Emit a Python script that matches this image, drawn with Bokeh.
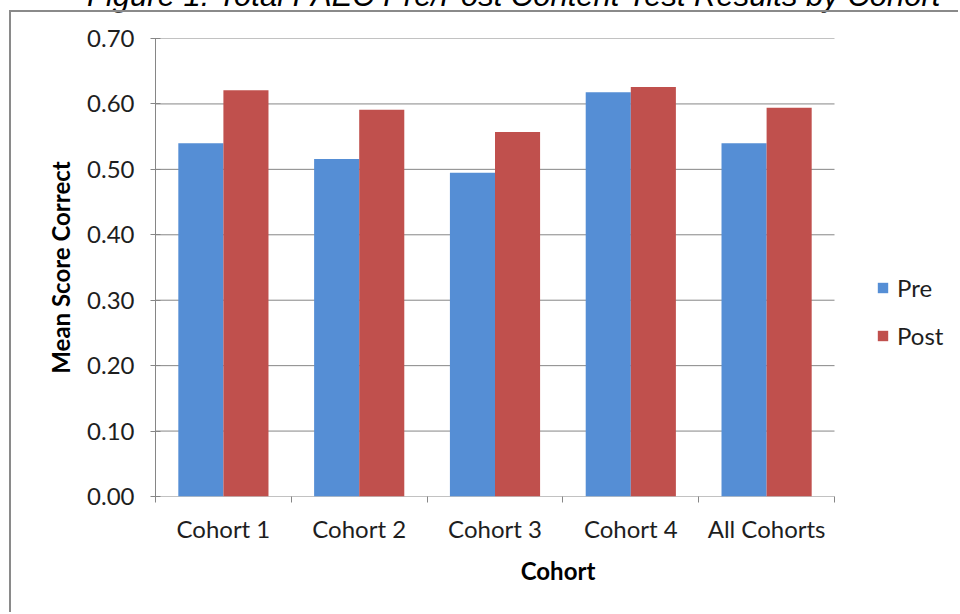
import numpy as np
from bokeh.plotting import figure
from bokeh.layouts import column
from bokeh.models import (Range1d, FixedTicker, NumeralTickFormatter,
                          Legend, LegendItem, Div)
from bokeh.embed import file_html
from bokeh.resources import INLINE

# Mean share of correct answers on the content test, before and after
cohorts = ["Cohort 1", "Cohort 2", "Cohort 3", "Cohort 4", "All Cohorts"]
pre_scores = [0.540, 0.516, 0.495, 0.618, 0.540]
post_scores = [0.621, 0.591, 0.557, 0.626, 0.594]
y_ticks = [0.00, 0.10, 0.20, 0.30, 0.40, 0.50, 0.60, 0.70]
title_text = "Figure 1: Total PAEC Pre/Post Content Test Results by Cohort"

FONT = "Lato"
TEXT = "#1E1E1E"
GRID = "#868686"
FRAME = "#8A8A8A"
BLUE = "#558ED5"
RED = "#C0504D"

n = len(cohorts)
centers = np.arange(n) + 0.5
bar_w = 0.332

# canvas geometry (px): the plot area spans PLOT_W, the legend sits to its right
CANVAS_W, CANVAS_H = 949, 602
LEFT, TOP, BOTTOM = 144, 26, 118
PLOT_W = 679
frame_w = CANVAS_W - LEFT
x_end = n * frame_w / PLOT_W

# caption line sitting above the chart area
caption = Div(
    text=(f'<div style="position:relative; top:-20px; padding-left:87px; '
          f'white-space:nowrap; font-family:\'Liberation Sans\'; '
          f'font-style:italic; font-size:31px; line-height:31px; '
          f'color:#000;">{title_text}</div>'),
    width=960, height=10, margin=0)

p = figure(width=CANVAS_W, height=CANVAS_H,
           x_range=Range1d(0, x_end), y_range=Range1d(0, max(y_ticks)),
           output_backend="svg", toolbar_location=None,
           min_border_left=LEFT, min_border_right=0,
           min_border_top=TOP, min_border_bottom=BOTTOM)
p.margin = (0, 0, 0, 9)
p.styles = {"border-top": f"2px solid {FRAME}",
            "border-left": f"2px solid {FRAME}"}
p.outline_line_color = None
p.background_fill_color = "white"
p.border_fill_color = "white"

# horizontal gridlines across the category span only (the 0 line is the baseline)
p.xgrid.grid_line_color = None
p.ygrid.grid_line_color = None
p.segment(x0=0, x1=n, y0=y_ticks, y1=y_ticks, line_color=GRID, line_width=1)

pre_r = p.vbar(x=centers - bar_w / 2, top=pre_scores, width=bar_w,
               fill_color=BLUE, line_color=None)
post_r = p.vbar(x=centers + bar_w / 2, top=post_scores, width=bar_w,
                fill_color=RED, line_color=None)

# category axis: labels at the centres, tick marks between categories
xa = p.xaxis[0]
xa.ticker = FixedTicker(ticks=list(centers), minor_ticks=list(range(n + 1)))
xa.major_label_overrides = {float(c): name for c, name in zip(centers, cohorts)}
xa.major_tick_in = 0
xa.major_tick_out = 0
xa.minor_tick_in = 0
xa.minor_tick_out = 6
xa.minor_tick_line_color = GRID
xa.axis_line_color = None
xa.major_label_text_font = FONT
xa.major_label_text_font_size = "24px"
xa.major_label_text_color = TEXT
xa.major_label_standoff = 11
xa.axis_label = "Cohort"
xa.axis_label_text_font = FONT
xa.axis_label_text_font_size = "24px"
xa.axis_label_text_font_style = "bold"
xa.axis_label_text_color = "black"
xa.axis_label_standoff = 10

ya = p.yaxis[0]
ya.ticker = FixedTicker(ticks=y_ticks, minor_ticks=[])
ya.formatter = NumeralTickFormatter(format="0.00")
ya.major_tick_in = 5
ya.major_tick_out = 5
ya.major_tick_line_color = GRID
ya.axis_line_color = GRID
ya.major_label_text_font = FONT
ya.major_label_text_font_size = "24px"
ya.major_label_text_color = TEXT
ya.major_label_standoff = 16
ya.axis_label = "Mean Score Correct"
ya.axis_label_text_font = FONT
ya.axis_label_text_font_size = "24px"
ya.axis_label_text_font_style = "bold"
ya.axis_label_text_color = "black"
ya.axis_label_standoff = 9

legend = Legend(items=[LegendItem(label="Pre", renderers=[pre_r]),
                       LegendItem(label="Post", renderers=[post_r])],
                location=(721, 146), margin=0, padding=0,
                border_line_color=None, background_fill_color=None,
                glyph_width=13, glyph_height=13, label_height=13,
                spacing=19, label_standoff=8,
                label_text_font=FONT, label_text_font_size="24px",
                label_text_color=TEXT)
p.add_layout(legend)

root = column(caption, p, spacing=0)
open("out.html", "w").write(file_html(root, INLINE))
